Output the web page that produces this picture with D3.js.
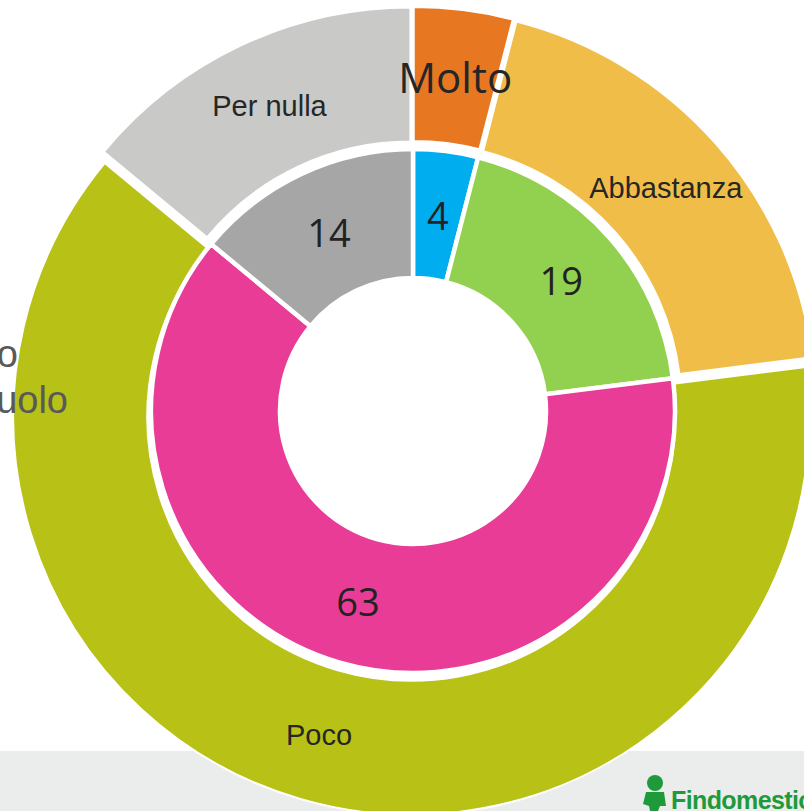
<!DOCTYPE html>
<html>
<head>
<meta charset="utf-8">
<script src="https://cdn.jsdelivr.net/npm/d3@7"></script>
<style>
  html, body { margin: 0; padding: 0; background: #fff; }
  svg { display: block; }
</style>
</head>
<body>
<svg id="chart" width="804" height="811"></svg>
<script>
// data
const categories = ["Molto", "Abbastanza", "Poco", "Per nulla"];
const values = [4, 19, 63, 14];
const outerColors = ["#E87722", "#F0BD48", "#B8C115", "#C9C9C7"];
const innerColors = ["#00AEEF", "#92D050", "#E83C96", "#A6A6A6"];

let svg = d3.select("#chart");
let cx = 413, cy = 411;

// footer band
svg.append("rect")
    .attr("x", 0).attr("y", 751)
    .attr("width", 804).attr("height", 60)
    .attr("fill", "#EBEDEC");

let pie = d3.pie().sort(null).value(d => d);
let slices = pie(values);

let g = svg.append("g").attr("transform", "translate(" + cx + "," + cy + ")");

// outer ring (exploded)
let outerArc = d3.arc().innerRadius(264).outerRadius(398);
let explode = 6;
let shift = d => {
    let a = (d.startAngle + d.endAngle) / 2;
    return [Math.sin(a) * explode, -Math.cos(a) * explode];
};

g.append("g").selectAll("path")
    .data(slices).enter()
    .append("path")
    .attr("transform", d => "translate(" + shift(d) + ")")
    .attr("d", outerArc)
    .attr("fill", (d, i) => outerColors[i])
    .attr("stroke", "#fff")
    .attr("stroke-width", 2);

// inner ring
let innerArc = d3.arc().innerRadius(133).outerRadius(262);

g.append("g").selectAll("path")
    .data(slices).enter()
    .append("path")
    .attr("d", innerArc)
    .attr("fill", (d, i) => innerColors[i])
    .attr("stroke", "#fff")
    .attr("stroke-width", 4.5);

// labels on top of everything
g.append("g").selectAll("text")
    .data(slices).enter()
    .append("text")
    .attr("transform", d => {
        let c = outerArc.centroid(d), s = shift(d);
        return "translate(" + (c[0] + s[0]) + "," + (c[1] + s[1]) + ")";
    })
    .attr("text-anchor", "middle")
    .attr("dominant-baseline", "central")
    .attr("font-family", (d, i) => i === 0 ? "Open Sans, sans-serif" : "Liberation Sans, Arial, sans-serif")
    .attr("font-size", (d, i) => i === 0 ? 42 : 29)
    .attr("fill", "#262626")
    .text((d, i) => categories[i]);

g.append("g").selectAll("text")
    .data(slices).enter()
    .append("text")
    .attr("transform", d => "translate(" + innerArc.centroid(d) + ")")
    .attr("text-anchor", "middle")
    .attr("dominant-baseline", "central")
    .attr("font-family", "Open Sans, sans-serif")
    .attr("font-size", 38)
    .attr("fill", "#222")
    .text(d => d.value);

// text cut off on the left edge (as in the original slide)
svg.append("text")
    .attr("x", 18).attr("y", 367)
    .attr("text-anchor", "end")
    .attr("font-family", "Liberation Sans, Arial, sans-serif")
    .attr("font-size", 38)
    .attr("fill", "#595959")
    .text("Non so");
svg.append("text")
    .attr("x", 68).attr("y", 413)
    .attr("text-anchor", "end")
    .attr("font-family", "Liberation Sans, Arial, sans-serif")
    .attr("font-size", 38)
    .attr("fill", "#595959")
    .text("Nessun ruolo");

// logo
let logo = svg.append("g").attr("fill", "#1F9A3B");
logo.append("circle").attr("cx", 655).attr("cy", 783).attr("r", 8);
logo.append("path").attr("d", "M646,792 L664,792 L666,806 L660,806 L658,811 L650,811 L649,806 L643,804 Z");
logo.append("text")
    .attr("x", 671).attr("y", 809)
    .attr("font-family", "Liberation Sans, Arial, sans-serif")
    .attr("font-weight", "bold")
    .attr("font-size", 25)
    .attr("letter-spacing", -0.6)
    .text("Findomestic");
</script>
</body>
</html>
